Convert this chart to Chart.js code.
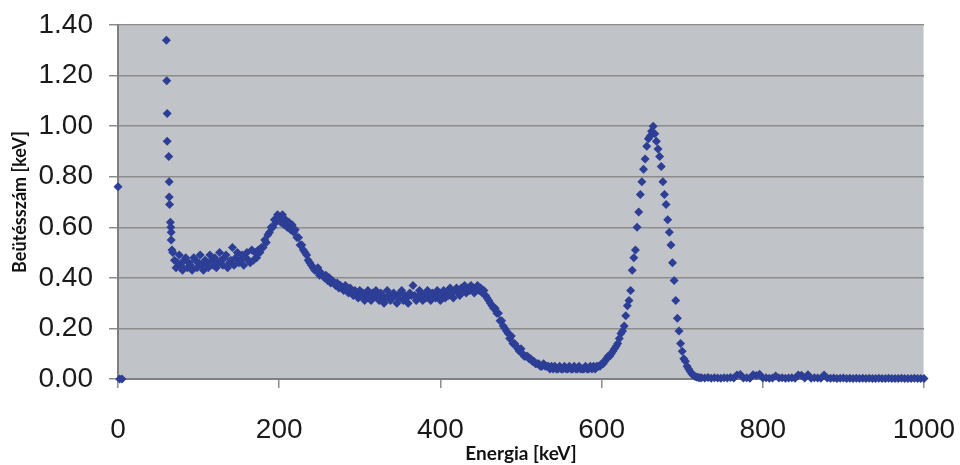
<!DOCTYPE html>
<html>
<head>
<meta charset="utf-8">
<script src="https://cdn.jsdelivr.net/npm/chart.js@4"></script>
<style>
  html, body { margin: 0; background: #fff; }
  #wrap { width: 960px; height: 465px; }
</style>
</head>
<body>
<div id="wrap"><canvas id="spectrum"></canvas></div>
<script>
// low-energy edge points (keV, counts)
const edgeEnergy = [0, 2, 5, 60, 60.5, 61, 61, 63, 63.5, 63.5, 64, 65, 65.5, 66, 66, 67];
const edgeCounts = [0.76, 0, 0, 1.34, 1.18, 1.05, 0.94, 0.88, 0.78, 0.72, 0.69, 0.62, 0.60, 0.58, 0.55, 0.51];

// main spectrum, 2 keV channels from 68 keV
const bandStart = 68;
const bandStep = 2;
const bandCounts = [
  0.50, 0.47, 0.44, 0.46, 0.49, 0.45, 0.43, 0.47, 0.48, 0.44,
  0.46, 0.45, 0.43, 0.48, 0.47, 0.44, 0.46, 0.49, 0.45, 0.43,
  0.47, 0.46, 0.44, 0.49, 0.47, 0.45, 0.48, 0.44, 0.46, 0.50,
  0.47, 0.45, 0.48, 0.49, 0.44, 0.46, 0.47, 0.52, 0.45, 0.48,
  0.50, 0.46, 0.47, 0.49, 0.45, 0.48, 0.50, 0.47, 0.46, 0.51,
  0.47, 0.50, 0.48, 0.51, 0.50, 0.52, 0.52, 0.55, 0.54, 0.57,
  0.58, 0.60, 0.60, 0.63, 0.62, 0.65, 0.64, 0.62, 0.65, 0.61,
  0.63, 0.60, 0.62, 0.59, 0.61, 0.58, 0.59, 0.56, 0.56, 0.53,
  0.53, 0.51, 0.50, 0.49, 0.47, 0.46, 0.45, 0.44, 0.43, 0.43,
  0.44, 0.41, 0.42, 0.41, 0.40, 0.41, 0.39, 0.40, 0.38, 0.39,
  0.38, 0.37, 0.38, 0.36, 0.37, 0.36, 0.35, 0.37, 0.35, 0.34,
  0.36, 0.34, 0.33, 0.35, 0.34, 0.32, 0.35, 0.33, 0.34, 0.31,
  0.33, 0.35, 0.32, 0.31, 0.34, 0.33, 0.35, 0.32, 0.31, 0.34,
  0.33, 0.30, 0.32, 0.35, 0.33, 0.31, 0.32, 0.34, 0.33, 0.30,
  0.32, 0.34, 0.35, 0.31, 0.33, 0.32, 0.30, 0.34, 0.33, 0.37,
  0.33, 0.31, 0.32, 0.35, 0.34, 0.31, 0.33, 0.32, 0.35, 0.33,
  0.31, 0.34, 0.33, 0.32, 0.35, 0.34, 0.31, 0.33, 0.35, 0.32,
  0.34, 0.33, 0.36, 0.34, 0.32, 0.35, 0.36, 0.34, 0.33, 0.36,
  0.35, 0.37, 0.34, 0.36, 0.35, 0.37, 0.36, 0.34, 0.36, 0.37,
  0.35, 0.36, 0.34, 0.35, 0.33, 0.32, 0.31, 0.30, 0.29, 0.28,
  0.28, 0.26, 0.26, 0.23, 0.23, 0.21, 0.20, 0.19, 0.18, 0.16,
  0.17, 0.14, 0.14, 0.13, 0.12, 0.11, 0.12, 0.10, 0.09, 0.09,
  0.09, 0.08, 0.08, 0.07, 0.07, 0.06, 0.06, 0.06, 0.05, 0.05,
  0.06, 0.05, 0.05, 0.05, 0.04, 0.05, 0.04, 0.05, 0.04, 0.04,
  0.05, 0.04, 0.04, 0.05, 0.04, 0.04, 0.05, 0.04, 0.04, 0.05,
  0.04, 0.04, 0.05, 0.04, 0.04, 0.04, 0.05, 0.04, 0.04, 0.05,
  0.04, 0.05, 0.04, 0.05, 0.05, 0.05, 0.06, 0.06, 0.07, 0.08,
  0.09, 0.09, 0.10, 0.11, 0.12, 0.13, 0.14, 0.16, 0.18, 0.19,
  0.21, 0.25, 0.29, 0.31, 0.35, 0.43, 0.48, 0.51, 0.60, 0.66,
  0.73, 0.78, 0.83, 0.87, 0.92, 0.95, 0.96, 0.98, 1.00, 0.97,
  0.94, 0.91, 0.88, 0.84, 0.78, 0.73, 0.69, 0.63, 0.58, 0.53,
  0.46, 0.39, 0.31, 0.24, 0.19, 0.14, 0.11, 0.08, 0.07, 0.05,
  0.04, 0.03, 0.02, 0.015, 0.01, 0.008, 0.006, 0.005
];

// high-energy tail, 4 keV channels from 724 keV
const tailStart = 724;
const tailStep = 4;
const tailCounts = [
  0.005, 0.004, 0.006, 0.003, 0.005, 0.004, 0.003, 0.005, 0.004, 0.006,
  0.004, 0.016, 0.018, 0.004, 0.005, 0.003, 0.017, 0.014, 0.019, 0.004,
  0.005, 0.003, 0.004, 0.012, 0.004, 0.005, 0.003, 0.004, 0.005, 0.003,
  0.016, 0.015, 0.004, 0.017, 0.003, 0.005, 0.004, 0.003, 0.016, 0.004,
  0.003, 0.004, 0.002, 0.003, 0.004, 0.002, 0.003, 0.002, 0.003, 0.002,
  0.003, 0.002, 0.003, 0.002, 0.002, 0.003, 0.002, 0.002, 0.003, 0.002,
  0.002, 0.002, 0.003, 0.002, 0.002, 0.002, 0.003, 0.002, 0.002, 0.002
];

const xTicks = [0, 200, 400, 600, 800, 1000];
const yTicks = [0, 0.2, 0.4, 0.6, 0.8, 1.0, 1.2, 1.4];

const points = [];
edgeEnergy.forEach((e, i) => points.push({ x: e, y: edgeCounts[i] }));
bandCounts.forEach((c, i) => points.push({ x: bandStart + i * bandStep, y: c }));
tailCounts.forEach((c, i) => points.push({ x: tailStart + i * tailStep, y: c }));

const FONT = "'Liberation Sans', Arial, sans-serif";
const TITLE_FONT = "Lato, 'Open Sans', sans-serif";

// grey plot area like the old Excel chart
const plotBg = {
  id: 'plotBg',
  beforeDraw(chart) {
    const { ctx, chartArea: a } = chart;
    ctx.save();
    ctx.fillStyle = '#c0c3c8';
    ctx.fillRect(a.left, a.top, a.width, a.height);
    ctx.strokeStyle = '#dcdcdc';
    ctx.lineWidth = 1;
    ctx.strokeRect(a.left + 0.5, a.top + 0.5, a.width - 1, a.height - 1);
    ctx.restore();
  }
};

new Chart(document.getElementById('spectrum'), {
  type: 'scatter',
  data: {
    datasets: [{
      data: points,
      pointStyle: 'rectRot',
      pointRadius: 4.5,
      pointHoverRadius: 4.5,
      borderWidth: 0,
      backgroundColor: '#2d3e96',
      borderColor: '#2d3e96',
      clip: false
    }]
  },
  options: {
    responsive: true,
    maintainAspectRatio: false,
    animation: false,
    layout: { padding: { top: 25, right: 36, bottom: 0, left: 0 } },
    plugins: { legend: { display: false }, tooltip: { enabled: false } },
    scales: {
      x: {
        type: 'linear',
        min: 0,
        max: 1000,
        afterBuildTicks: s => { s.ticks = xTicks.map(v => ({ value: v })); },
        afterFit: s => { s.height = 86; s.paddingLeft = 0; s.paddingRight = 0; },
        ticks: {
          font: { family: FONT, size: 28 },
          color: '#1a1a1a',
          padding: 25,
          maxRotation: 0,
          callback: v => String(v)
        },
        grid: { drawOnChartArea: false, drawTicks: true, tickLength: 9, color: '#8c8c8c', lineWidth: 1.5 },
        border: { display: true, color: '#808080', width: 2 },
        title: {
          display: true,
          text: 'Energia [keV]',
          font: { family: TITLE_FONT, size: 19, weight: 'bold' },
          color: '#111',
          padding: { top: 0, bottom: 0 }
        }
      },
      y: {
        min: 0,
        max: 1.4,
        afterBuildTicks: s => { s.ticks = yTicks.map(v => ({ value: v })); },
        afterFit: s => { s.width = 118; s.paddingTop = 0; s.paddingBottom = 0; },
        ticks: {
          font: { family: FONT, size: 28 },
          color: '#1a1a1a',
          padding: 16,
          callback: v => Number(v).toFixed(2)
        },
        grid: { color: '#8c8c8c', lineWidth: 1.5, tickLength: 9 },
        border: { display: true, color: '#808080', width: 2 },
        title: {
          display: true,
          text: 'Beütésszám [keV]',
          font: { family: TITLE_FONT, size: 18, weight: 'bold' },
          color: '#111',
          padding: { top: 9, bottom: 0 }
        }
      }
    }
  },
  plugins: [plotBg]
});
</script>
</body>
</html>
